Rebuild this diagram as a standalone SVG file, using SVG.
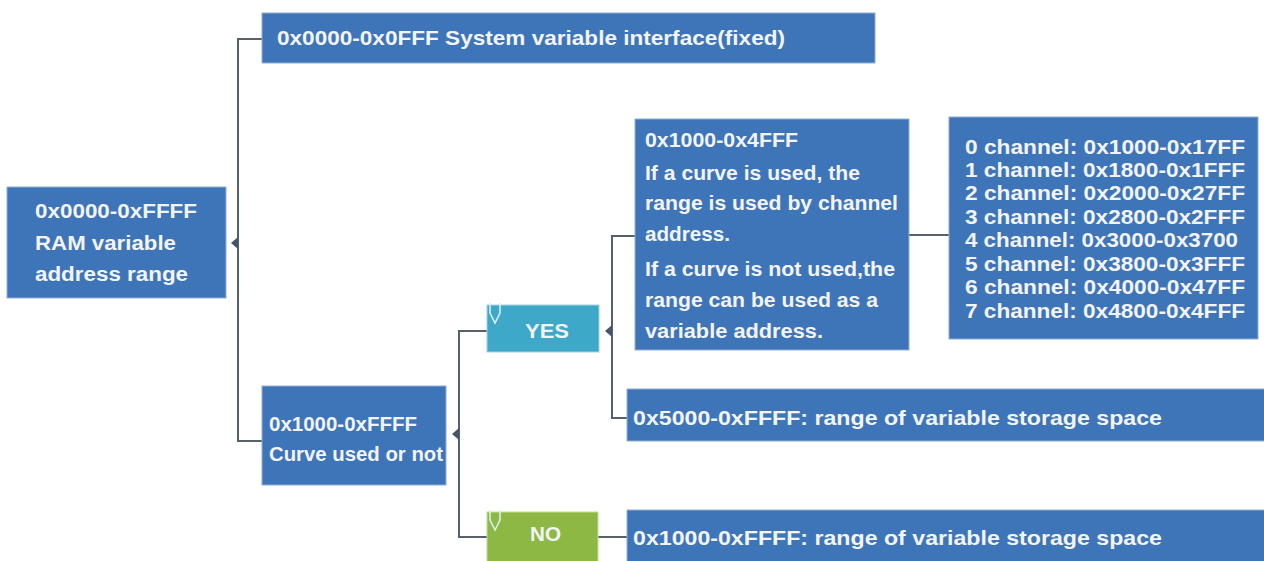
<svg xmlns="http://www.w3.org/2000/svg" width="1264" height="561" viewBox="0 0 1264 561">
<style>
.box{fill:#3e75b9;stroke:#8fb0d6;stroke-width:1}
.yes{fill:#3ea8c9;stroke:#9fd3e4;stroke-width:1}
.no{fill:#8db843;stroke:#c4dd96;stroke-width:1}
.t{font-family:"Liberation Sans",Arial,sans-serif;font-weight:bold;fill:#f2f4f7}
.c{fill:none;stroke:#56616d;stroke-width:2}
.tri{fill:#46566a}
.ic{fill:none;stroke:#d8eef2;stroke-width:1.6}
</style>
<rect width="1264" height="561" fill="#ffffff"/>
<g id="connectors">
<path class="c" d="M262 39 H238 V441 H262"/>
<polygon class="tri" points="238,237 231,243 238,249"/>
<path class="c" d="M487 331 H459 V537 H487"/>
<polygon class="tri" points="459,428 452,434 459,440"/>
<path class="c" d="M635 236 H612 V418 H627"/>
<polygon class="tri" points="612,325 605,331 612,337"/>
<path class="c" d="M909 235 H949"/>
<path class="c" d="M598 537 H627"/>
</g>
<g id="node-system">
<rect class="box" x="262" y="13" width="613" height="50"/>
<text class="t" x="277" y="45" font-size="21" textLength="508" lengthAdjust="spacingAndGlyphs">0x0000-0x0FFF System variable interface(fixed)</text>
</g>
<g id="node-root">
<rect class="box" x="7" y="187" width="219" height="111"/>
<text class="t" font-size="20"><tspan x="35" y="218" textLength="162" lengthAdjust="spacingAndGlyphs">0x0000-0xFFFF</tspan><tspan x="35" y="250" textLength="141" lengthAdjust="spacingAndGlyphs">RAM variable</tspan><tspan x="35" y="281" textLength="153" lengthAdjust="spacingAndGlyphs">address range</tspan></text>
</g>
<g id="node-curve">
<rect class="box" x="262" y="386" width="184" height="99"/>
<text class="t" font-size="20"><tspan x="269" y="431" textLength="148" lengthAdjust="spacingAndGlyphs">0x1000-0xFFFF</tspan><tspan x="269" y="461" textLength="174" lengthAdjust="spacingAndGlyphs">Curve used or not</tspan></text>
</g>
<g id="node-yes">
<rect class="yes" x="487" y="305" width="112" height="47"/>
<path class="ic" d="M490 303 V313 L495 323 L500 313 V303"/>
<text class="t" x="525" y="338" font-size="20" textLength="44" lengthAdjust="spacingAndGlyphs">YES</text>
</g>
<g id="node-no">
<rect class="no" x="487" y="512" width="111" height="52"/>
<path class="ic" d="M490 510 V520 L495 530 L500 520 V510"/>
<text class="t" x="530" y="541" font-size="20" textLength="31" lengthAdjust="spacingAndGlyphs">NO</text>
</g>
<g id="node-curve-range">
<rect class="box" x="635" y="119" width="274" height="231"/>
<text class="t" font-size="20">
<tspan x="645" y="147" textLength="153" lengthAdjust="spacingAndGlyphs">0x1000-0x4FFF</tspan>
<tspan x="645" y="180" textLength="215" lengthAdjust="spacingAndGlyphs">If a curve is used, the</tspan>
<tspan x="645" y="210" textLength="253" lengthAdjust="spacingAndGlyphs">range is used by channel</tspan>
<tspan x="645" y="241" textLength="85" lengthAdjust="spacingAndGlyphs">address.</tspan>
<tspan x="645" y="276" textLength="250" lengthAdjust="spacingAndGlyphs">If a curve is not used,the</tspan>
<tspan x="645" y="307" textLength="233" lengthAdjust="spacingAndGlyphs">range can be used as a</tspan>
<tspan x="645" y="338" textLength="178" lengthAdjust="spacingAndGlyphs">variable address.</tspan>
</text>
</g>
<g id="node-channels">
<rect class="box" x="949" y="117" width="309" height="222"/>
<text class="t" font-size="20">
<tspan x="965" y="154" textLength="280" lengthAdjust="spacingAndGlyphs">0 channel: 0x1000-0x17FF</tspan>
<tspan x="965" y="177" textLength="280" lengthAdjust="spacingAndGlyphs">1 channel: 0x1800-0x1FFF</tspan>
<tspan x="965" y="200" textLength="280" lengthAdjust="spacingAndGlyphs">2 channel: 0x2000-0x27FF</tspan>
<tspan x="965" y="224" textLength="280" lengthAdjust="spacingAndGlyphs">3 channel: 0x2800-0x2FFF</tspan>
<tspan x="965" y="247" textLength="273" lengthAdjust="spacingAndGlyphs">4 channel: 0x3000-0x3700</tspan>
<tspan x="965" y="271" textLength="280" lengthAdjust="spacingAndGlyphs">5 channel: 0x3800-0x3FFF</tspan>
<tspan x="965" y="294" textLength="280" lengthAdjust="spacingAndGlyphs">6 channel: 0x4000-0x47FF</tspan>
<tspan x="965" y="318" textLength="280" lengthAdjust="spacingAndGlyphs">7 channel: 0x4800-0x4FFF</tspan>
</text>
</g>
<g id="node-storage-yes">
<rect class="box" x="627" y="389" width="640" height="52"/>
<text class="t" x="633" y="425" font-size="21" textLength="529" lengthAdjust="spacingAndGlyphs">0x5000-0xFFFF: range of variable storage space</text>
</g>
<g id="node-storage-no">
<rect class="box" x="627" y="510" width="640" height="55"/>
<text class="t" x="633" y="545" font-size="21" textLength="529" lengthAdjust="spacingAndGlyphs">0x1000-0xFFFF: range of variable storage space</text>
</g>
</svg>
